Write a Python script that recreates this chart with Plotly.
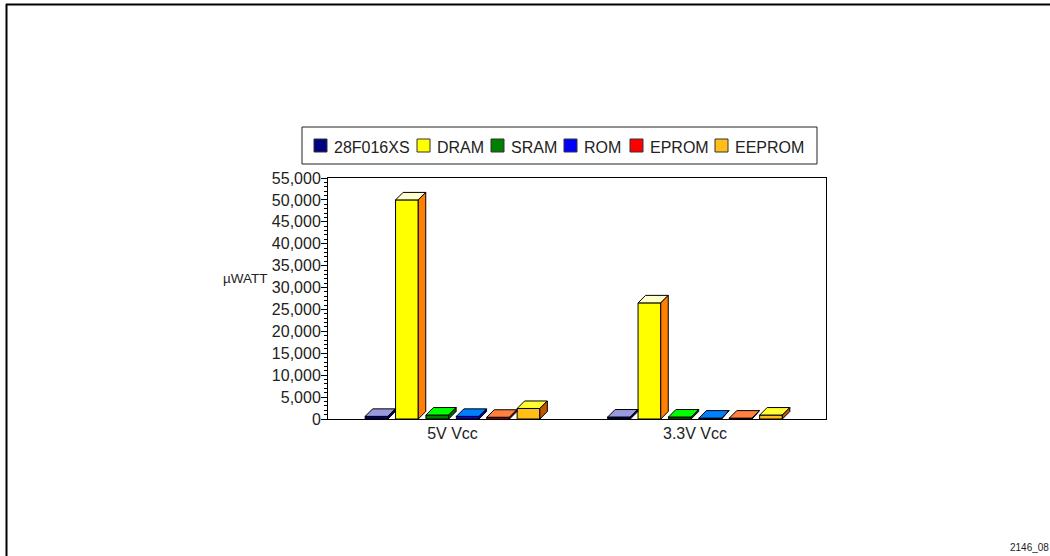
import plotly.graph_objects as go

categories = ["5V Vcc", "3.3V Vcc"]
series = ["28F016XS", "DRAM", "SRAM", "ROM", "EPROM", "EEPROM"]
v_5v = [600, 50000, 900, 600, 400, 2400]
v_33v = [450, 26500, 450, 200, 200, 900]
front = ["#000080", "#FFFF00", "#008000", "#0000FF", "#FF0000", "#FFBF17"]
top = ["#9999DD", "#FFFFCC", "#00FF00", "#0080FF", "#FF8040", "#FFFF33"]
side = ["#000060", "#FF8000", "#006000", "#0000B0", "#B00000", "#C05800"]
y_ticks = list(range(0, 55001, 5000))

W, H = 1050, 556
L, R, T, B = 328, 826, 178, 419
cx = [452.5, 695.0]
pitch_px, bw_px, dx_px, dy_px = 30.4, 22.7, 7.5, 7.5
x0 = (L - cx[0]) / (cx[1] - cx[0])
x1 = (R - cx[0]) / (cx[1] - cx[0])
ux = 1 / (cx[1] - cx[0])
uy = 55000 / (B - T)

fig = go.Figure()
values = [v_5v, v_33v]
for i, name in enumerate(series):
    fig.add_bar(x=[0, 1], y=[v_5v[i], v_33v[i]], name=name, marker_color=front[i],
                marker_line=dict(color="black", width=1), showlegend=False)

for i, name in enumerate(series):
    for g in range(2):
        xc = g + (i - 2.5) * pitch_px * ux
        xa, xb = xc - bw_px * ux / 2, xc + bw_px * ux / 2
        dx, dy = dx_px * ux, dy_px * uy
        v = values[g][i]
        fig.add_scatter(x=[xa, xb, xb + dx, xa + dx, xa], y=[v, v, v + dy, v + dy, v],
                        fill="toself", fillcolor=top[i], mode="lines",
                        line=dict(color="black", width=1), showlegend=False, hoverinfo="skip")
        fig.add_scatter(x=[xb, xb + dx, xb + dx, xb, xb], y=[0, dy, v + dy, v, 0],
                        fill="toself", fillcolor=side[i], mode="lines",
                        line=dict(color="black", width=1), showlegend=False, hoverinfo="skip")

shapes = [dict(type="rect", xref="paper", yref="paper", x0=302 / W, x1=817 / W,
               y0=1 - 164 / H, y1=1 - 127 / H, line=dict(color="#222222", width=1), fillcolor="white", layer="below"),
          dict(type="line", xref="paper", yref="paper", x0=6 / W, x1=1, y0=1 - 4.5 / H, y1=1 - 4.5 / H, line=dict(color="black", width=2)),
          dict(type="line", xref="paper", yref="paper", x0=6.5 / W, x1=6.5 / W, y0=0, y1=1 - 4 / H, line=dict(color="black", width=2))]
annotations = []
sw_x = [314, 417, 491, 564, 630, 715]
for i, name in enumerate(series):
    shapes.append(dict(type="rect", xref="paper", yref="paper", x0=sw_x[i] / W, x1=(sw_x[i] + 13) / W,
                       y0=1 - 152 / H, y1=1 - 139 / H, fillcolor=front[i], line=dict(color="#333333", width=1)))
    annotations.append(dict(text=name, xref="paper", yref="paper", x=(sw_x[i] + 17.5) / W, y=1 - 147 / H,
                            xanchor="left", yanchor="middle", showarrow=False, font=dict(size=16, color="#222222")))
annotations.append(dict(text="µWATT", xref="paper", yref="paper", x=270 / W, y=1 - 278 / H, xanchor="right",
                        yanchor="middle", showarrow=False, font=dict(size=13.5, color="#222222")))
annotations.append(dict(text="2146_08", xref="paper", yref="paper", x=1008 / W, y=1 - 547 / H, xanchor="left",
                        yanchor="middle", showarrow=False, font=dict(size=10, color="#222222")))

fig.update_layout(
    width=W, height=H, autosize=False, margin=dict(l=0, r=0, t=0, b=0, autoexpand=False),
    paper_bgcolor="white", plot_bgcolor="white", barmode="group", bargap=0.248, bargroupgap=0.253,
    font=dict(family="Liberation Sans, Arial, sans-serif", color="#222222"),
    shapes=shapes, annotations=annotations,
    xaxis=dict(domain=[L / W, R / W], range=[x0, x1], tickvals=[0, 1], ticktext=categories, ticks="", automargin=False,
               showgrid=False, zeroline=False, showline=True, linecolor="black", mirror=True, tickfont=dict(size=16)),
    yaxis=dict(domain=[1 - B / H, 1 - T / H], range=[0, 55000], tickvals=y_ticks, tickformat=",d", ticks="outside", automargin=False,
               ticklabelstandoff=-3,
               ticklen=6, tickcolor="black", showgrid=False, zeroline=False, showline=True, linecolor="black",
               mirror=True, tickfont=dict(size=16),
               minor=dict(dtick=1000, tick0=0, ticks="outside", ticklen=3, tickcolor="black", showgrid=False)),
)
fig.write_html("out.html", config=dict(displayModeBar=False),
               post_script="document.body.style.margin='0';")
